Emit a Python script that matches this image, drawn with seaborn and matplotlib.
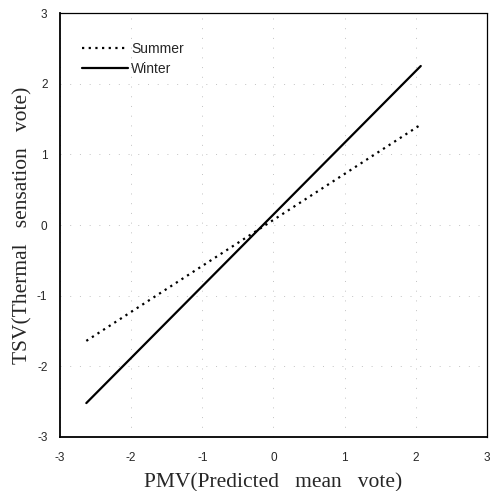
import pandas as pd
import numpy as np
import matplotlib.pyplot as plt
import seaborn as sns

# end points of the two regression lines
pmv = [-2.63, 2.07]
tsv_summer = [-1.64, 1.42]
tsv_winter = [-2.52, 2.25]
ticks = [-3, -2, -1, 0, 1, 2, 3]

df = pd.DataFrame({
    'PMV': pmv + pmv,
    'TSV': tsv_summer + tsv_winter,
    'season': ['Summer'] * 2 + ['Winter'] * 2,
})

sns.set_style('white')
plt.rcParams['font.family'] = ['Liberation Sans', 'DejaVu Sans']
plt.rcParams['axes.unicode_minus'] = False

fig = plt.figure(figsize=(4.93, 4.91), dpi=100)
ax = fig.add_axes([0.1217, 0.11, 0.866, 0.8635])

sns.lineplot(data=df, x='PMV', y='TSV', hue='season', style='season',
             palette=['black', 'black'],
             dashes={'Summer': (1, 2), 'Winter': ''},
             linewidth=1.6, ax=ax)

ax.set_xlim(-3, 3)
ax.set_ylim(-3, 3)
ax.set_xticks(ticks)
ax.set_yticks(ticks)
ax.tick_params(axis='both', labelsize=8.5, length=0)
ax.tick_params(axis='x', pad=11)
ax.tick_params(axis='y', pad=9)

# faint dotted grid like the scanned original
ax.grid(True, color='#999999', linestyle=(0, (1, 9)), linewidth=0.7, alpha=0.6)

for side in ['left', 'bottom']:
    ax.spines[side].set_color('black')
    ax.spines[side].set_linewidth(1.3)
for side in ['top', 'right']:
    ax.spines[side].set_color('black')
    ax.spines[side].set_linewidth(0.9)
    ax.spines[side].set_linestyle((0, (3, 1)))

ax.set_xlabel('PMV(Predicted   mean   vote)', family='Liberation Serif', fontsize=15.5)
ax.set_ylabel('TSV(Thermal   sensation   vote)', family='Liberation Serif', fontsize=15.5)
ax.xaxis.set_label_coords(0.5, -0.085)
ax.yaxis.set_label_coords(-0.064, 0.5)

leg = ax.legend(loc='upper left', bbox_to_anchor=(0.023, 0.962), frameon=False,
                fontsize=10, handlelength=3.3, handletextpad=0.2, labelspacing=0.45,
                title=None)

fig.savefig('out.png', dpi=100)
